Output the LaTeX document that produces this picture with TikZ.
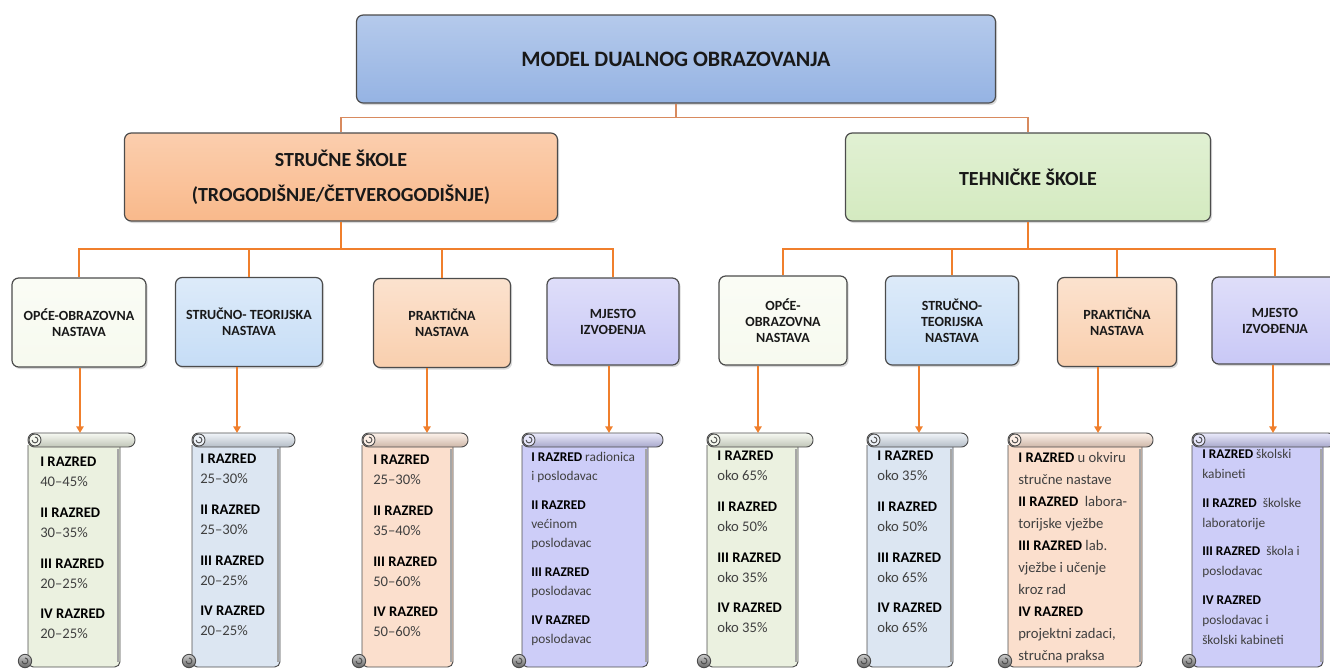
\documentclass[tikz,border=0pt]{standalone}
\usepackage{fontspec}
\setmainfont{Carlito}
\usetikzlibrary{arrows.meta,shadows}

\newdimen\px \px=0.75pt

\definecolor{topblue}{HTML}{95B3E3}
\definecolor{ssorange}{HTML}{F9B98B}
\definecolor{tsgreen}{HTML}{D4EAC0}
\definecolor{bxwhite}{HTML}{F7FAEF}
\definecolor{bxblue}{HTML}{C6DDF6}
\definecolor{bxpeach}{HTML}{F9CFAE}
\definecolor{bxlilac}{HTML}{C9C8F6}
\definecolor{scgreen}{HTML}{EBF1E0}
\definecolor{scblue}{HTML}{DCE6F2}
\definecolor{scpeach}{HTML}{FBDFCD}
\definecolor{sclilac}{HTML}{CDCDF8}
\definecolor{linkorange}{HTML}{F07F2C}
\definecolor{linkbrown}{HTML}{D88A5E}
\definecolor{txtgrey}{HTML}{404040}

\newcommand{\rz}[1]{\textbf{\color{black}#1 RAZRED}}
% scroll behind a list: body from #1 to #2, top roll to #3, colour #4
\newcommand{\scrollbg}[4]{%
  \draw[scrolledge, fill=#4, rounded corners=4pt] (#1,445) -- (#1,667) -- (#2,667) -- (#2,445);
  \draw[black!35, line width=2pt] (#2-2,449) -- (#2-2,662);
  \draw[scrolledge, rounded corners=5pt, top color=#4!40!white, bottom color=#4!82!black] (#1,433) rectangle (#3,447);
  \draw[scrolledge, fill=#4!50!white] (#1+7,440) circle (4.5pt);
  \draw[scrolledge] (#1+7,437) arc[start angle=90, end angle=-180, radius=2.2pt];
  \draw[scrolledge, top color=black!20, bottom color=black!60] (#1-3,661) circle (5pt);
  \draw[scrolledge] (#1-3,658) arc[start angle=90, end angle=-180, radius=2.2pt];
}

\begin{document}
\begin{tikzpicture}[x=0.75pt, y=-0.75pt]
        \tikzstyle{box}=[draw=black!70, line width=0.9pt, rounded corners=5pt, align=center, inner sep=0pt, text=black!90, drop shadow={opacity=0.3, shadow xshift=1.2pt, shadow yshift=-1.5pt}]
        \tikzstyle{cell}=[box, minimum height=89\px, font=\bfseries\fontsize{10.5}{12}\selectfont]
        \tikzstyle{joinline}=[draw=linkbrown, line width=0.9pt]
        \tikzstyle{branchline}=[draw=linkorange, line width=1.5pt]
        \tikzstyle{feedarrow}=[draw=linkorange, line width=1.5pt, -{Triangle[length=5pt, width=5.5pt]}]
        \tikzstyle{scrolledge}=[draw=black!70, line width=0.7pt]
        \tikzstyle{listtext}=[anchor=north west, align=left, inner sep=0pt, text=txtgrey, font=\fontsize{11}{15}\selectfont]

        \useasboundingbox (0,0) rectangle (1330,668);

        \node[box, top color=topblue!70!white, bottom color=topblue, minimum width=639\px, minimum height=88\px, font=\bfseries\fontsize{16.5}{20}\selectfont] (model) at (676,59) {MODEL DUALNOG OBRAZOVANJA};
        \node[box, top color=ssorange!70!white, bottom color=ssorange, minimum width=433\px, minimum height=88\px, font=\bfseries\fontsize{15}{26}\selectfont] (strucne) at (341,177) {STRUČNE ŠKOLE\\(TROGODIŠNJE/ČETVEROGODIŠNJE)};
        \node[box, top color=tsgreen!70!white, bottom color=tsgreen, minimum width=365\px, minimum height=88\px, font=\bfseries\fontsize{15}{26}\selectfont] (tehnicke) at (1028,177) {TEHNIČKE ŠKOLE};

        \node[cell, top color=bxwhite!60!white, bottom color=bxwhite, minimum width=134\px] (opce1) at (79,322.5) {OPĆE-OBRAZOVNA\\NASTAVA};
        \node[cell, top color=bxblue!60!white, bottom color=bxblue, minimum width=147\px] (strucno1) at (249,322) {STRUČNO- TEORIJSKA\\NASTAVA};
        \node[cell, top color=bxpeach!60!white, bottom color=bxpeach, minimum width=137\px] (prakt1) at (442,323) {PRAKTIČNA\\NASTAVA};
        \node[cell, top color=bxlilac!60!white, bottom color=bxlilac, minimum width=132\px, minimum height=87\px] (mjesto1) at (613,321.5) {MJESTO\\IZVOĐENJA};
        \node[cell, top color=bxwhite!60!white, bottom color=bxwhite, minimum width=128\px] (opce2) at (783,320.5) {OPĆE-\\OBRAZOVNA\\NASTAVA};
        \node[cell, top color=bxblue!60!white, bottom color=bxblue, minimum width=133\px] (strucno2) at (952,320.5) {STRUČNO-\\TEORIJSKA\\NASTAVA};
        \node[cell, top color=bxpeach!60!white, bottom color=bxpeach, minimum width=119\px] (prakt2) at (1117,322) {PRAKTIČNA\\NASTAVA};
        \node[cell, top color=bxlilac!60!white, bottom color=bxlilac, minimum width=126\px, minimum height=87\px] (mjesto2) at (1275,320.5) {MJESTO\\IZVOĐENJA};

        % scrolls
        \scrollbg{28}{120}{135}{scgreen}
        \scrollbg{192}{280}{295}{scblue}
        \scrollbg{362}{453}{468}{scpeach}
        \scrollbg{522}{648}{663}{sclilac}
        \scrollbg{707}{798}{813}{scgreen}
        \scrollbg{867}{953}{968}{scblue}
        \scrollbg{1008}{1142}{1153}{scpeach}
        \scrollbg{1192}{1323}{1335}{sclilac}

        \node[listtext] (list1) at (40,457) {\rz{I}\\40--45\%\\[8pt]\rz{II}\\30--35\%\\[8pt]\rz{III}\\20--25\%\\[8pt]\rz{IV}\\20--25\%};
        \node[listtext] (list2) at (200,454) {\rz{I}\\25--30\%\\[8pt]\rz{II}\\25--30\%\\[8pt]\rz{III}\\20--25\%\\[8pt]\rz{IV}\\20--25\%};
        \node[listtext] (list3) at (373,455) {\rz{I}\\25--30\%\\[8pt]\rz{II}\\35--40\%\\[8pt]\rz{III}\\50--60\%\\[8pt]\rz{IV}\\50--60\%};
        \node[listtext, font=\fontsize{10}{14.25}\selectfont] (list4) at (531,452) {\rz{I} radionica\\i poslodavac\\[7.5pt]\rz{II}\\većinom\\poslodavac\\[7.5pt]\rz{III}\\poslodavac\\[7.5pt]\rz{IV}\\poslodavac};
        \node[listtext] (list5) at (717,451) {\rz{I}\\oko 65\%\\[8pt]\rz{II}\\oko 50\%\\[8pt]\rz{III}\\oko 35\%\\[8pt]\rz{IV}\\oko 35\%};
        \node[listtext] (list6) at (877,451) {\rz{I}\\oko 35\%\\[8pt]\rz{II}\\oko 50\%\\[8pt]\rz{III}\\oko 65\%\\[8pt]\rz{IV}\\oko 65\%};
        \node[listtext, font=\fontsize{11}{16.5}\selectfont] (list7) at (1018,452) {\rz{I} u okviru\\stručne nastave\\\rz{II} \ labora-\\torijske vježbe\\\rz{III} lab.\\vježbe i učenje\\kroz rad\\\rz{IV}\\projektni zadaci,\\stručna praksa};
        \node[listtext, font=\fontsize{10}{15}\selectfont] (list8) at (1202,449) {\rz{I} školski\\kabineti\\[6.5pt]\rz{II} \ školske\\laboratorije\\[6.5pt]\rz{III} \ škola i\\poslodavac\\[6.5pt]\rz{IV}\\poslodavac i\\školski kabineti};

        % tree lines
        \draw[joinline] (model.south) -- ++(0,14) coordinate (j0);
        \draw[joinline] (j0) -| (strucne.north);
        \draw[joinline] (j0) -| (tehnicke.north);
        \draw[branchline] (strucne.south) -- ++(0,27) coordinate (j1);
        \draw[branchline] (j1) -| (opce1.north);
        \draw[branchline] (j1) -| (strucno1.north);
        \draw[branchline] (j1) -| (prakt1.north);
        \draw[branchline] (j1) -| (mjesto1.north);
        \draw[branchline] (tehnicke.south) -- ++(0,27) coordinate (j2);
        \draw[branchline] (j2) -| (opce2.north);
        \draw[branchline] (j2) -| (strucno2.north);
        \draw[branchline] (j2) -| (prakt2.north);
        \draw[branchline] (j2) -| (mjesto2.north);

        % arrows down to the scrolls
        \coordinate (p1) at (80,433);
        \coordinate (p2) at (237,433);
        \coordinate (p3) at (427,433);
        \coordinate (p4) at (609,433);
        \coordinate (p5) at (758,433);
        \coordinate (p6) at (919,433);
        \coordinate (p7) at (1098,433);
        \coordinate (p8) at (1273,433);
        \draw[feedarrow] (opce1.south -| p1) -- (p1);
        \draw[feedarrow] (strucno1.south -| p2) -- (p2);
        \draw[feedarrow] (prakt1.south -| p3) -- (p3);
        \draw[feedarrow] (mjesto1.south -| p4) -- (p4);
        \draw[feedarrow] (opce2.south -| p5) -- (p5);
        \draw[feedarrow] (strucno2.south -| p6) -- (p6);
        \draw[feedarrow] (prakt2.south -| p7) -- (p7);
        \draw[feedarrow] (mjesto2.south -| p8) -- (p8);
    \end{tikzpicture}
\end{document}
